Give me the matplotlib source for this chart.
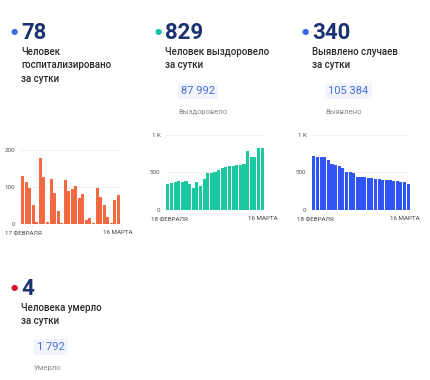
import numpy as np
import matplotlib.pyplot as plt

plt.rcParams['font.family'] = ['Roboto', 'DejaVu Sans']

W, H = 430, 380

# данные
hosp = [130, 114, 96, 50, 6, 179, 126, 6, 121, 85, 35, 4, 119, 90,
        94, 103, 69, 80, 11, 17, 3, 96, 72, 50, 20, 2, 65, 78]
recov = [345, 363, 376, 380, 367, 389, 345, 298, 367, 323, 412, 487, 487, 500,
         531, 553, 571, 580, 588, 593, 602, 611, 788, 704, 708, 829, 829]
cases = [712, 708, 704, 699, 664, 606, 593, 580, 562, 509, 500, 487, 442, 438,
         434, 429, 425, 416, 407, 403, 398, 394, 385, 385, 376, 367, 340]

headline = ['78', '829', '340', '4']
captions = [['Человек', 'госпитализировано', 'за сутки'],
            ['Человек выздоровело', 'за сутки'],
            ['Выявлено случаев', 'за сутки'],
            ['Человека умерло', 'за сутки']]
totals = [None, '87 992', '105 384', '1 792']
total_names = [None, 'Выздоровело', 'Выявлено', 'Умерло']
dot_colors = ['#3d6ee6', '#1cc49c', '#3d63ee', '#d0142c']

fig = plt.figure(figsize=(W / 100, H / 100), dpi=100)


def tx(px, py, s, **kw):
    fig.text(px / W, 1 - py / H, s, **kw)


navy = '#1b3270'
dark = '#2b2b2b'
# x, y of dot, number, captions
blocks = [(14, 32), (158, 32), (305, 32), (14, 288)]
for i, (dx, dy) in enumerate(blocks):
    tx(dx, dy, '●', color=dot_colors[i], fontsize=6, ha='center', va='center')
    tx(dx + 7, dy + 1, headline[i], color=navy, fontsize=16, fontweight='bold',
       ha='left', va='center')
    for j, line in enumerate(captions[i]):
        tx(dx + 7, dy + 20 + j * 13.5, line, color=dark, fontsize=7,
           fontweight='medium', ha='left', va='center')
    if totals[i]:
        ty = dy + 59
        tx(dx + 23, ty, totals[i], color='#4a6fd8', fontsize=8, ha='left', va='center',
           bbox=dict(boxstyle='square,pad=0.3', fc='#f1f4fb', ec='none'))
        tx(dx + 20, ty + 21, total_names[i], color='#8a8a8a', fontsize=5.5,
           ha='left', va='center')


def bars(left, right, top, bottom, vals, color, ymax, ticks, labels):
    ax = fig.add_axes([left / W, 1 - bottom / H, (right - left) / W, (bottom - top) / H])
    x = np.arange(len(vals))
    ax.bar(x, vals, width=0.85, color=color, zorder=2)
    ax.set_xlim(-0.5, len(vals) - 0.5)
    ax.set_ylim(0, ymax)
    ax.set_yticks(ticks)
    ax.set_yticklabels(labels)
    ax.set_xticks([])
    ax.grid(axis='y', color='#eeeeee', linewidth=0.6, zorder=0)
    for s in ax.spines.values():
        s.set_visible(False)
    ax.tick_params(axis='y', length=0, labelsize=4.5, labelcolor='#555555', pad=4)
    return ax


bars(21, 120, 150, 224, hosp, '#f26a42', 200, [0, 100, 200], ['0', '100', '200'])
bars(166, 264, 134.7, 210, recov, '#1ac9a0', 1000, [0, 500, 1000], ['0', '500', '1 K'])
bars(312, 410, 134.7, 210, cases, '#2f55f4', 1000, [0, 500, 1000], ['0', '500', '1 K'])

small = dict(fontsize=4.5, color='#444444', va='center')
tx(5, 233, '17 ФЕВРАЛЯ', ha='left', **small)
tx(133, 233, '16 МАРТА', ha='right', **small)
tx(151, 219, '18 ФЕВРАЛЯ', ha='left', **small)
tx(278, 219, '16 МАРТА', ha='right', **small)
tx(297, 219, '18 ФЕВРАЛЯ', ha='left', **small)
tx(420, 219, '16 МАРТА', ha='right', **small)

fig.savefig('out.png', dpi=100)
